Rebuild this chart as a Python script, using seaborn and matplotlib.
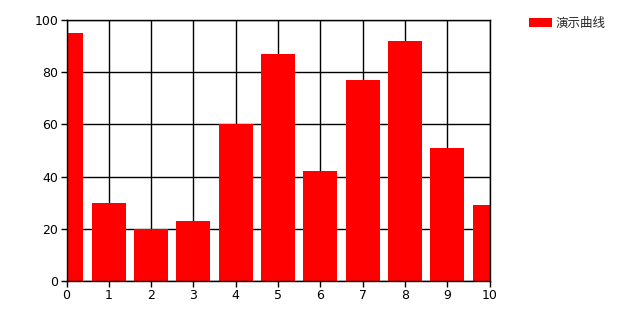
import matplotlib
matplotlib.use("Agg")
import matplotlib.pyplot as plt
import seaborn as sns
import pandas as pd

x_values = [0, 1, 2, 3, 4, 5, 6, 7, 8, 9, 10]
y_values = [95, 30, 20, 23, 60, 87, 42, 77, 92, 51, 29]
series_name = "演示曲线"
x_ticks = [0, 1, 2, 3, 4, 5, 6, 7, 8, 9, 10]
y_ticks = [0, 20, 40, 60, 80, 100]

sns.set_theme(style="white")
plt.rcParams['font.family'] = ['Noto Sans CJK SC', 'DejaVu Sans']

df = pd.DataFrame({"x": x_values, "y": y_values, "series": series_name})

fig = plt.figure(figsize=(6.41, 3.23), dpi=100)
W, H = 641, 323
left, right, top, bottom = 66.5, 489.5, 20, 281
ax = fig.add_axes([left / W, (H - bottom) / H, (right - left) / W, (bottom - top) / H])

sns.barplot(data=df, x="x", y="y", hue="series", palette=["#ff0000"],
            native_scale=True, width=0.8, ax=ax, saturation=1, legend=True,
            edgecolor="none", linewidth=0, zorder=2)

ax.set_xlim(0, 10)
ax.set_ylim(0, 100)
ax.set_xticks(x_ticks)
ax.set_yticks(y_ticks)
ax.set_xticklabels([str(v) for v in x_ticks])
ax.set_yticklabels([str(v) for v in y_ticks])
ax.set_xlabel("")
ax.set_ylabel("")
ax.grid(True, color="black", linewidth=1, zorder=0)
ax.set_axisbelow(True)
for s in ax.spines.values():
    s.set_color("black")
    s.set_linewidth(1)
ax.tick_params(axis="both", which="major", direction="out", length=4, width=1,
               color="black", labelsize=9, labelcolor="black", pad=2,
               bottom=True, left=True)
for lbl in ax.get_xticklabels() + ax.get_yticklabels():
    lbl.set_fontfamily(['DejaVu Sans'])

leg = ax.legend(loc="upper left", bbox_to_anchor=(529 / W, 1 - 17 / H),
                bbox_transform=fig.transFigure, frameon=False, fontsize=9,
                handlelength=1.8, handleheight=0.75, handletextpad=0.35,
                borderpad=0, borderaxespad=0)

fig.savefig("out.png", dpi=100)
